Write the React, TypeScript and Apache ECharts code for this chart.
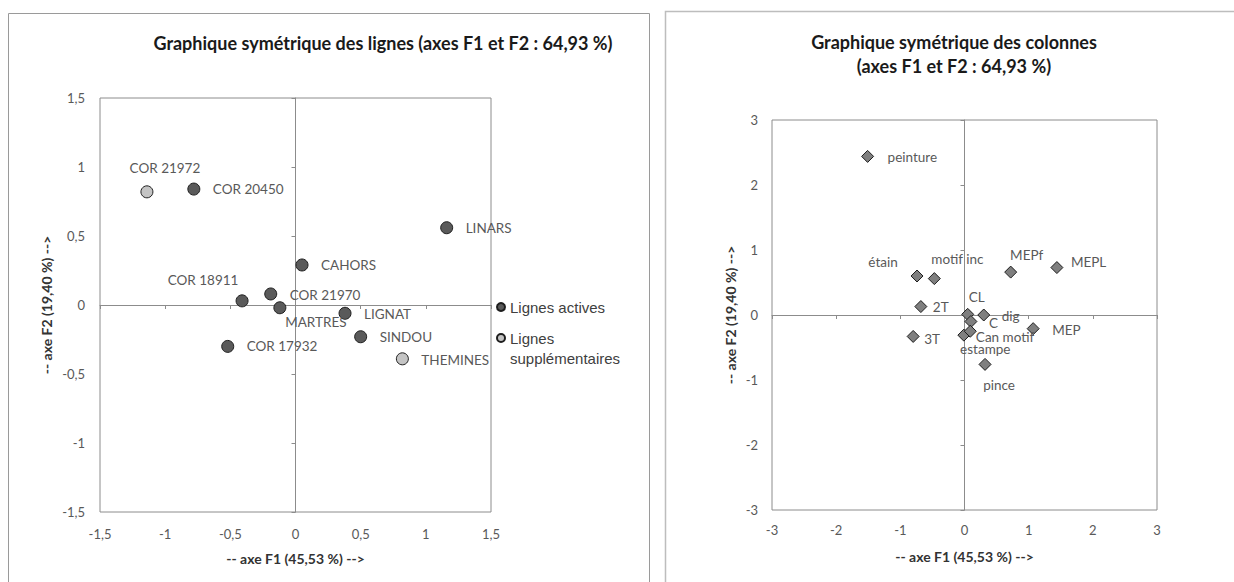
import React, { useEffect, useRef } from 'react';
import * as echarts from 'echarts';

// ---- Data: row chart (lignes) ----
const ACTIVE_NAMES = ['COR 20450', 'LINARS', 'CAHORS', 'COR 18911', 'COR 21970', 'MARTRES', 'LIGNAT', 'SINDOU', 'COR 17932'];
const ACTIVE_F1 = [-0.78, 1.16, 0.05, -0.41, -0.19, -0.12, 0.38, 0.50, -0.52];
const ACTIVE_F2 = [0.84, 0.56, 0.29, 0.03, 0.08, -0.02, -0.06, -0.23, -0.30];

const SUPP_NAMES = ['COR 21972', 'THEMINES'];
const SUPP_F1 = [-1.14, 0.82];
const SUPP_F2 = [0.82, -0.39];

// ---- Data: column chart (colonnes) ----
const COL_NAMES = ['peinture', 'étain', 'motif inc', 'MEPf', 'MEPL', '2T', 'CL', 'dig', 'C', 'MEP', 'Can motif', 'estampe', '3T', 'pince'];
const COL_F1 = [-1.51, -0.74, -0.47, 0.72, 1.44, -0.68, 0.05, 0.30, 0.10, 1.07, -0.01, 0.09, -0.80, 0.32];
const COL_F2 = [2.44, 0.60, 0.56, 0.66, 0.73, 0.13, 0.01, 0.00, -0.10, -0.21, -0.31, -0.25, -0.33, -0.76];

// ---- Texts ----
const TITLE_LEFT = 'Graphique symétrique des lignes (axes F1 et F2 : 64,93 %)';
const TITLE_RIGHT = 'Graphique symétrique des colonnes\n(axes F1 et F2 : 64,93 %)';
const AXIS_F1 = '-- axe F1 (45,53 %) -->';
const AXIS_F2 = '-- axe F2 (19,40 %) -->';
const SERIES_ACTIVE = 'Lignes actives';
const SERIES_SUPP = 'Lignes supplémentaires';

// ---- Label placement (align, dx, dy) ----
const LEFT_LABELS: Record<string, [string, number, number]> = {
  'COR 21972': ['center', 18, -24],
  'COR 20450': ['left', 19, 0],
  'LINARS': ['left', 19, 0],
  'CAHORS': ['left', 19, 0],
  'COR 18911': ['center', -39, -21],
  'COR 21970': ['left', 19, 1],
  'MARTRES': ['center', 36, 14],
  'LIGNAT': ['left', 19, 1],
  'SINDOU': ['left', 19, 0],
  'COR 17932': ['left', 19, 0],
  'THEMINES': ['left', 19, 1],
};
const RIGHT_LABELS: Record<string, [string, number, number]> = {
  'peinture': ['left', 20, 1],
  'étain': ['center', -34, -14],
  'motif inc': ['center', 23, -20],
  'MEPf': ['center', 16, -17],
  'MEPL': ['left', 14, -6],
  '2T': ['left', 12, 0],
  'CL': ['center', 9, -17],
  'dig': ['left', 18, 1],
  'C': ['left', 18, 1],
  'MEP': ['left', 19, 1],
  'Can motif': ['left', 12, 2],
  'estampe': ['center', 15, 18],
  '3T': ['left', 11, 3],
  'pince': ['center', 14, 21],
};

const FONT = 'Lato';
const GRAY_LINE = '#8c8c8c';
const fmt = (v: number) => String(v).replace('.', ',');

function buildPoints(names: string[], xs: number[], ys: number[], place: Record<string, [string, number, number]>) {
  return names.map((n, i) => {
    const p = place[n] || ['left', 18, 0];
    return {
      name: n,
      value: [xs[i], ys[i]],
      label: { align: p[0], offset: [p[1], p[2]] },
    };
  });
}

const pointLabel = {
  show: true,
  position: ['50%', '50%'],
  verticalAlign: 'middle',
  formatter: '{b}',
  fontFamily: FONT,
  fontSize: 13.5,
  color: '#595959',
};

function labelAxis(gridIndex: number, min: number, max: number, interval: number, pos: string, name: string, nameGap: number, margin: number) {
  return {
    type: 'value',
    gridIndex,
    min,
    max,
    interval,
    position: pos,
    axisLine: { show: false, onZero: false },
    axisTick: { show: false },
    splitLine: { show: false },
    axisLabel: {
      formatter: fmt,
      margin,
      fontFamily: FONT,
      fontSize: 13,
      color: '#595959',
      showMinLabel: true,
      showMaxLabel: true,
    },
    name,
    nameLocation: 'middle',
    nameGap,
    nameTextStyle: { fontFamily: FONT, fontWeight: 'bold', fontSize: 14, color: '#333333' },
  };
}

function zeroAxis(gridIndex: number, min: number, max: number, interval: number, pos: string, onZeroIdx: number) {
  return {
    type: 'value',
    gridIndex,
    min,
    max,
    interval,
    position: pos,
    axisLine: { show: true, onZero: true, onZeroAxisIndex: onZeroIdx, lineStyle: { color: GRAY_LINE, width: 1 } },
    axisTick: { show: true, length: 4, lineStyle: { color: GRAY_LINE, width: 1 } },
    axisLabel: { show: false },
    splitLine: { show: false },
  };
}

const LEGEND_SUPP_ICON =
  'path://M4 0C6.21 0 8 1.79 8 4C8 6.21 6.21 8 4 8C1.79 8 0 6.21 0 4C0 1.79 1.79 0 4 0ZM4 28';

export default function App() {
  const ref = useRef<HTMLDivElement>(null);

  useEffect(() => {
    if (!ref.current) return;
    const chart = echarts.init(ref.current, undefined, { renderer: 'svg' });
    const legendText = { fontFamily: 'Liberation Sans', fontSize: 15, color: '#404040', lineHeight: 20 };

    chart.setOption({
      animation: false,
      backgroundColor: '#ffffff',
      graphic: [
        { type: 'rect', shape: { x: 8.5, y: 13.5, width: 641, height: 620 }, style: { fill: 'none', stroke: '#9a9a9a', lineWidth: 1 }, silent: true },
        { type: 'rect', shape: { x: 665.5, y: 11.5, width: 620, height: 620 }, style: { fill: 'none', stroke: '#bdbdbd', lineWidth: 1.5 }, silent: true },
        {
          type: 'text', x: 383, y: 43,
          style: { text: TITLE_LEFT, align: 'center', verticalAlign: 'middle', font: `bold 18px ${FONT}`, fill: '#1a1a1a' },
          silent: true,
        },
        {
          type: 'text', x: 954, y: 54,
          style: { text: TITLE_RIGHT, align: 'center', verticalAlign: 'middle', font: `bold 18px ${FONT}`, lineHeight: 24.5, fill: '#1a1a1a' },
          silent: true,
        },
      ],
      legend: [
        {
          data: [SERIES_ACTIVE],
          orient: 'vertical',
          left: 496,
          top: 297,
          padding: 0,
          itemWidth: 8,
          itemHeight: 8,
          icon: 'circle',
          selectedMode: false,
          textStyle: legendText,
        },
        {
          data: [SERIES_SUPP],
          orient: 'vertical',
          left: 496,
          top: 328,
          padding: 0,
          itemWidth: 8,
          itemHeight: 28,
          icon: LEGEND_SUPP_ICON,
          selectedMode: false,
          formatter: () => 'Lignes\nsupplémentaires',
          textStyle: legendText,
        },
      ],
      grid: [
        { left: 100, top: 98, width: 391, height: 414, show: true, borderColor: GRAY_LINE, borderWidth: 1, backgroundColor: 'transparent' },
        { left: 772, top: 120, width: 385, height: 390, show: true, borderColor: GRAY_LINE, borderWidth: 1, backgroundColor: 'transparent' },
      ],
      xAxis: [
        labelAxis(0, -1.5, 1.5, 0.5, 'bottom', AXIS_F1, 39, 15),
        zeroAxis(0, -1.5, 1.5, 0.5, 'bottom', 0),
        labelAxis(1, -3, 3, 1, 'bottom', AXIS_F1, 39, 13),
        zeroAxis(1, -3, 3, 1, 'bottom', 2),
      ],
      yAxis: [
        labelAxis(0, -1.5, 1.5, 0.5, 'left', AXIS_F2, 47, 15),
        zeroAxis(0, -1.5, 1.5, 0.5, 'left', 0),
        labelAxis(1, -3, 3, 1, 'left', AXIS_F2, 35, 14),
        zeroAxis(1, -3, 3, 1, 'left', 2),
      ],
      series: [
        {
          name: SERIES_ACTIVE,
          type: 'scatter',
          xAxisIndex: 0,
          yAxisIndex: 0,
          symbol: 'circle',
          symbolSize: 12,
          itemStyle: { color: '#5a5a5a', borderColor: '#1e1e1e', borderWidth: 1, opacity: 1 },
          label: pointLabel,
          data: buildPoints(ACTIVE_NAMES, ACTIVE_F1, ACTIVE_F2, LEFT_LABELS),
          z: 3,
        },
        {
          name: SERIES_SUPP,
          type: 'scatter',
          xAxisIndex: 0,
          yAxisIndex: 0,
          symbol: 'circle',
          symbolSize: 12,
          itemStyle: { color: '#c4c4c4', borderColor: '#1e1e1e', borderWidth: 1, opacity: 1 },
          label: pointLabel,
          data: buildPoints(SUPP_NAMES, SUPP_F1, SUPP_F2, LEFT_LABELS),
          z: 3,
        },
        {
          name: 'Colonnes',
          type: 'scatter',
          xAxisIndex: 2,
          yAxisIndex: 2,
          symbol: 'diamond',
          symbolSize: 12,
          itemStyle: { color: '#7f7f7f', borderColor: '#1e1e1e', borderWidth: 1, opacity: 1 },
          label: pointLabel,
          data: buildPoints(COL_NAMES, COL_F1, COL_F2, RIGHT_LABELS),
          z: 3,
        },
      ],
    });

    return () => chart.dispose();
  }, []);

  return (
    <div
      ref={ref}
      style={{ position: 'fixed', left: 0, top: 0, width: 1234, height: 582, background: '#fff' }}
    />
  );
}
